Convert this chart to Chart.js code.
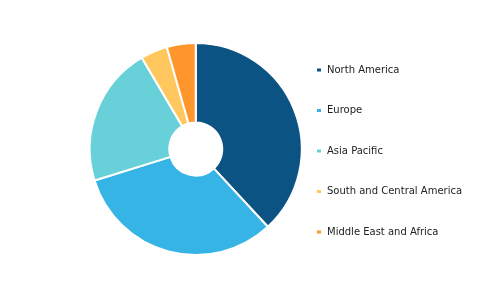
<!DOCTYPE html>
<html>
<head>
<meta charset="utf-8">
<script src="https://cdn.jsdelivr.net/npm/chart.js@4.4.0/dist/chart.umd.min.js"></script>
<style>
    html, body { margin: 0; padding: 0; background: #fff; }
    #wrap { width: 500px; height: 303px; }
</style>
</head>
<body>
<div id="wrap"><canvas id="share-chart" width="500" height="303"></canvas></div>
<script>
// Regional share (%)
const regions = ['North America', 'Europe', 'Asia Pacific', 'South and Central America', 'Middle East and Africa'];
const shares = [38.1, 32.1, 21.3, 4.1, 4.4];
const sliceColors = ['#0a5382', '#36b4e5', '#67d0d9', '#ffc75d', '#fe962b'];

const ctx = document.getElementById('share-chart').getContext('2d');

new Chart(ctx, {
    type: 'doughnut',
    data: {
        labels: regions,
        datasets: [{
            data: shares,
            backgroundColor: sliceColors,
            borderColor: '#ffffff',
            borderWidth: 2,
            radius: 106,
            cutout: '25%'
        }]
    },
    options: {
        responsive: false,
        animation: false,
        layout: {
            padding: { left: 106, right: 35, top: 0, bottom: 5 }
        },
        plugins: {
            tooltip: { enabled: false },
            legend: {
                position: 'right',
                // empty title only nudges the items down a couple of px
                title: { display: true, text: '', font: { size: 1 }, padding: { top: 0, bottom: 3 } },
                labels: {
                    boxWidth: 6,
                    boxHeight: 5,
                    padding: 30.5,
                    color: '#222',
                    font: { family: 'DejaVu Sans', size: 10 }
                }
            }
        }
    }
});
</script>
</body>
</html>
